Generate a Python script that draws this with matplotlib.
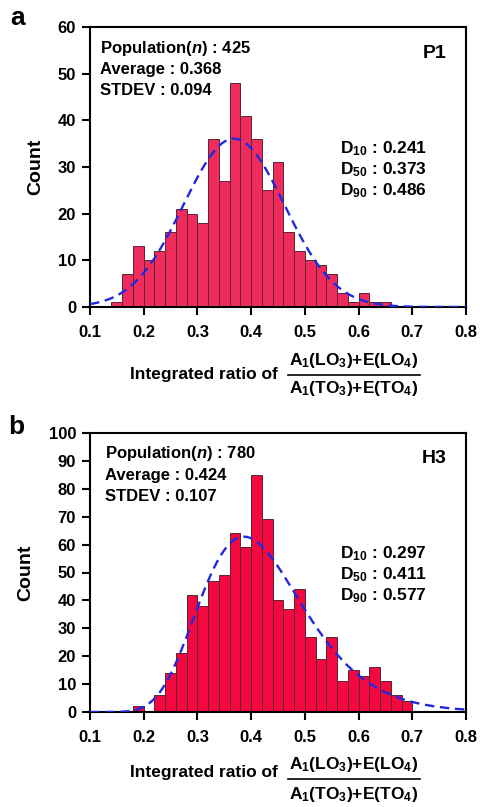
import numpy as np
import matplotlib
matplotlib.use('Agg')
from matplotlib import pyplot as plt
from matplotlib.lines import Line2D

plt.rcParams['font.family'] = ['Liberation Sans', 'DejaVu Sans']
plt.rcParams['font.weight'] = 'bold'
plt.rcParams['mathtext.fontset'] = 'custom'
plt.rcParams['mathtext.rm'] = 'Liberation Sans:bold'
plt.rcParams['mathtext.bf'] = 'Liberation Sans:bold'
plt.rcParams['mathtext.it'] = 'Liberation Sans:italic:bold'

# bin width of both histograms
bin_width = 0.02

# panel a: P1
p1_bin_start = 0.14
p1_counts = [1, 7, 13, 10, 12, 16, 21, 20, 18, 36, 27, 48, 41, 36, 25, 31,
             16, 12, 10, 9, 7, 3, 1, 3, 1, 1]
p1_n, p1_mean, p1_std = 425, 0.368, 0.094
p1_d = [0.241, 0.373, 0.486]

# panel b: H3
h3_bin_start = 0.18
h3_counts = [2, 0, 6, 14, 21, 42, 38, 47, 49, 64, 59, 85, 69, 40, 37, 44,
             27, 19, 27, 11, 15, 13, 16, 11, 6, 4]
h3_n, h3_mean, h3_std = 780, 0.424, 0.107
h3_d = [0.297, 0.411, 0.577]

xlabel_text = 'Integrated ratio of'
xlabel_num = r'A$_1$(LO$_3$)+E(LO$_4$)'
xlabel_den = r'A$_1$(TO$_3$)+E(TO$_4$)'


def normal_fit(x, n, mean, std):
    return n * bin_width / (std * np.sqrt(2 * np.pi)) * np.exp(-(x - mean) ** 2 / (2 * std ** 2))


def lognormal_fit(x, n, mean, std):
    s2 = np.log(1 + (std / mean) ** 2)
    mu = np.log(mean) - s2 / 2
    return n * bin_width / (x * np.sqrt(2 * np.pi * s2)) * np.exp(-(np.log(x) - mu) ** 2 / (2 * s2))


def draw_panel(ax, bin_start, counts, n, mean, std, d, name, ymax, fit, color, tx):
    lefts = bin_start + bin_width * np.arange(len(counts))
    ax.bar(lefts, counts, width=bin_width, align='edge', color=color,
           edgecolor='#5a2436', linewidth=0.7, zorder=2)
    x = np.linspace(0.1, 0.8, 400)
    ax.plot(x, fit(x, n, mean, std), color='#2028e0', lw=1.7, ls=(0, (4, 2.4)), zorder=3)
    ax.set_xlim(0.1, 0.8)
    ax.set_ylim(0, ymax)
    ax.set_xticks(np.arange(1, 9) / 10)
    ax.set_xticklabels(['%.1f' % v for v in np.arange(1, 9) / 10])
    ax.set_yticks(np.arange(0, ymax + 1, 10))
    ax.tick_params(direction='out', length=6, width=1.5, labelsize=12, pad=4)
    ax.tick_params(axis='x', pad=7)
    for sp in ax.spines.values():
        sp.set_linewidth(1.5)
    ax.set_ylabel('Count', fontsize=14, fontweight='bold', labelpad=10)

    ax.text(tx, 0.925, 'Population($n$) : %d' % n, transform=ax.transAxes,
            fontsize=12, va='center', ha='left')
    ax.text(tx, 0.848, 'Average : %.3f' % mean, transform=ax.transAxes,
            fontsize=12, va='center', ha='left')
    ax.text(tx, 0.773, 'STDEV : %.3f' % std, transform=ax.transAxes,
            fontsize=12, va='center', ha='left')
    ax.text(0.948, 0.907, name, transform=ax.transAxes, fontsize=14,
            va='center', ha='right')
    for i, (lab, val) in enumerate(zip(['10', '50', '90'], d)):
        ax.text(0.665, 0.567 - 0.075 * i, r'D$_{%s}$ : %.3f' % (lab, val),
                transform=ax.transAxes, fontsize=12.5, va='center', ha='left')


def draw_xlabel(fig, y_text, y_num, y_bar, y_den):
    W, H = 480, 807
    fig.text(130 / W, 1 - y_text / H, xlabel_text, fontsize=12.5, ha='left', va='center')
    fig.text(354 / W, 1 - y_num / H, xlabel_num, fontsize=12.5, ha='center', va='center')
    fig.text(354 / W, 1 - y_den / H, xlabel_den, fontsize=12.5, ha='center', va='center')
    fig.add_artist(Line2D([288 / W, 420 / W], [1 - y_bar / H, 1 - y_bar / H],
                          color='black', lw=1.2, transform=fig.transFigure))


fig = plt.figure(figsize=(4.8, 8.07), dpi=100)
ax1 = fig.add_axes([90 / 480, 1 - 307 / 807, 376 / 480, 280 / 807])
ax2 = fig.add_axes([90 / 480, 1 - 712 / 807, 376 / 480, 279 / 807])

draw_panel(ax1, p1_bin_start, p1_counts, p1_n, p1_mean, p1_std, p1_d, 'P1', 60,
           normal_fit, '#f02c5c', 0.027)
draw_panel(ax2, h3_bin_start, h3_counts, h3_n, h3_mean, h3_std, h3_d, 'H3', 100,
           lognormal_fit, '#f5083f', 0.04)

draw_xlabel(fig, 374, 360, 375, 389)
draw_xlabel(fig, 773, 765, 779, 794)

fig.text(10 / 480, 1 - 6 / 807, 'a', fontsize=19, fontweight='bold', ha='left', va='top')
fig.text(8 / 480, 1 - 415 / 807, 'b', fontsize=19, fontweight='bold', ha='left', va='top')

fig.savefig('out.png', dpi=100)
